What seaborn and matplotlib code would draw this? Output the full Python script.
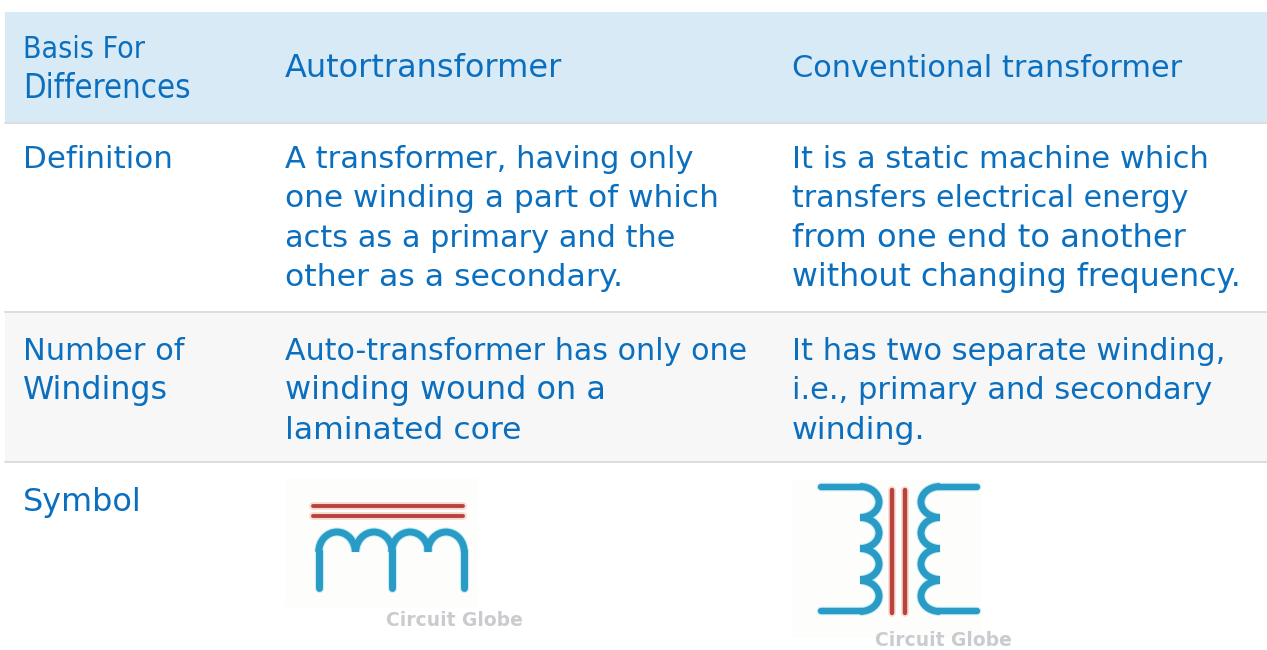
import matplotlib
matplotlib.use("Agg")
import matplotlib.pyplot as plt
from matplotlib.patches import Arc, Rectangle
import pandas as pd
import seaborn as sns

# --- TABLE CONTENT ---
header_left = ["Basis For", "Differences"]
header_cols = ["Autortransformer", "Conventional transformer"]
row_labels = [["Definition"], ["Number of", "Windings"], ["Symbol"]]
col_auto = [
    ["A transformer, having only", "one winding a part of which",
     "acts as a primary and the", "other as a secondary."],
    ["Auto-transformer has only one", "winding wound on a", "laminated core"],
]
col_conv = [
    ["It is a static machine which", "transfers electrical energy",
     "from one end to another", "without changing frequency."],
    ["It has two separate winding,", "i.e., primary and secondary", "winding."],
]
watermark = "Circuit Globe"

# line widths in the picture, pixels
WIDTHS = {
    "Basis For": 122, "Differences": 168, "Autortransformer": 278, "Conventional transformer": 390,
    "Definition": 150, "Number of": 162, "Windings": 145, "Symbol": 119,
    "A transformer, having only": 409, "one winding a part of which": 435,
    "acts as a primary and the": 391, "other as a secondary.": 338,
    "Auto-transformer has only one": 463, "winding wound on a": 321, "laminated core": 236,
    "It is a static machine which": 416, "transfers electrical energy": 396,
    "from one end to another": 394, "without changing frequency.": 449,
    "It has two separate winding,": 433, "i.e., primary and secondary": 420, "winding.": 133,
}

# --- SYMBOL GEOMETRY (in pixels) ---
auto_core = pd.DataFrame({"x": [313, 463, 313, 463], "y": [506, 506, 516, 516], "line": [0, 0, 1, 1]})
auto_legs = pd.DataFrame({"x": [319, 319, 392, 392, 464, 464], "y": [551, 588, 551, 588, 551, 588],
                          "line": [0, 0, 1, 1, 2, 2]})
auto_arch_x = [337, 374, 410, 446]

conv_core = pd.DataFrame({"x": [892, 892, 905, 905], "y": [490, 613, 490, 613], "line": [0, 0, 1, 1]})
conv_leads = pd.DataFrame({"x": [821, 862, 821, 862, 977, 938, 977, 938], "y": [487, 487, 611, 611, 487, 487, 611, 611],
                           "line": [0, 0, 1, 1, 2, 2, 3, 3]})
conv_loop_y = [502, 533, 564, 596]

BLUE = "#0b6fbf"
COIL = "#2a9bc4"
COIL_HALO = "#c5eef8"
RED = "#b5443f"
RED_HALO = "#fbd9d0"

sns.set_theme(style="white")
plt.rcParams["font.family"] = ["DejaVu Sans"]

fig, ax = plt.subplots(figsize=(12.67, 6.5), dpi=100)
fig.subplots_adjust(0, 0, 1, 1)
ax.set_xlim(0, 1267)
ax.set_ylim(650, 0)
ax.axis("off")

# --- ROW BANDS ---
ax.add_patch(Rectangle((5, 12), 1262, 110, color="#d9eaf7", lw=0))
ax.add_patch(Rectangle((5, 312), 1262, 149, color="#f7f7f7", lw=0))
for yy in [122.5, 311.5, 461.5]:
    ax.plot([5, 1267], [yy, yy], color="#dddddd", lw=1.4)

# --- TEXT ---
renderer = fig.canvas.get_renderer()

def fitted(x, y, s, fs=23, **kw):
    # scale the size a little so the line runs as wide as in the picture
    t = ax.text(x, y, s, color=BLUE, fontsize=fs, va="baseline", ha="left", **kw)
    w = t.get_window_extent(renderer).width
    t.set_fontsize(fs * WIDTHS[s] / w)
    return t

def block(x, y0, lines, step=39.6, **kw):
    for i, s in enumerate(lines):
        fitted(x, y0 + i * step, s, **kw)

block(23, 58, header_left, step=40, stretch="condensed", fs=24)
fitted(285, 77, header_cols[0])
fitted(792, 77, header_cols[1])

block(23, 167.5, row_labels[0])
block(23, 359.5, row_labels[1])
block(23, 511.5, row_labels[2])
block(285, 167.5, col_auto[0])
block(285, 359.5, col_auto[1])
block(792, 167.5, col_conv[0])
block(792, 359.5, col_conv[1])

# --- SYMBOLS ---
ax.add_patch(Rectangle((285, 478), 193, 129, color="#fdfdfc", lw=0))
ax.add_patch(Rectangle((792, 480), 190, 158, color="#fdfdfc", lw=0))

def strokes(df, color, lw, z):
    sns.lineplot(data=df, x="x", y="y", units="line", estimator=None, sort=False, ax=ax,
                 color=color, lw=lw, legend=False, solid_capstyle="round", zorder=z)

def arcs(centres, w, h, t1, t2, color, lw, z):
    for cx, cy in centres:
        ax.add_patch(Arc((cx, cy), w, h, theta1=t1, theta2=t2, color=color, lw=lw, zorder=z))

def coil_auto(color, lw, z):
    strokes(auto_legs, color, lw, z)
    arcs([(x, 552) for x in auto_arch_x], 36.5, 40, 180, 360, color, lw, z)

def coil_conv(color, lw, z):
    strokes(conv_leads, color, lw - 0.4, z)
    arcs([(860, y) for y in conv_loop_y], 38, 31, -90, 90, color, lw, z)
    arcs([(940, y) for y in conv_loop_y], 38, 31, 90, 270, color, lw, z)

# halos under the strokes so these stay unbroken
strokes(auto_core, RED_HALO, 5.5, 3)
strokes(auto_core, RED, 2.8, 4)
coil_auto(COIL_HALO, 6.5, 3)
coil_auto(COIL, 5, 4)

strokes(conv_core, RED_HALO, 5.5, 3)
strokes(conv_core, RED, 3.2, 4)
coil_conv(COIL_HALO, 6.5, 3)
coil_conv(COIL, 5, 4)

ax.text(454, 620, watermark, color="#bcbfc2", fontsize=13.5, ha="center", va="center", weight="bold", alpha=0.8)
ax.text(943, 641, watermark, color="#bcbfc2", fontsize=13.5, ha="center", va="center", weight="bold", alpha=0.8)

ax.set_xlabel("")
ax.set_ylabel("")
fig.savefig("out.png", dpi=100, facecolor="white")
